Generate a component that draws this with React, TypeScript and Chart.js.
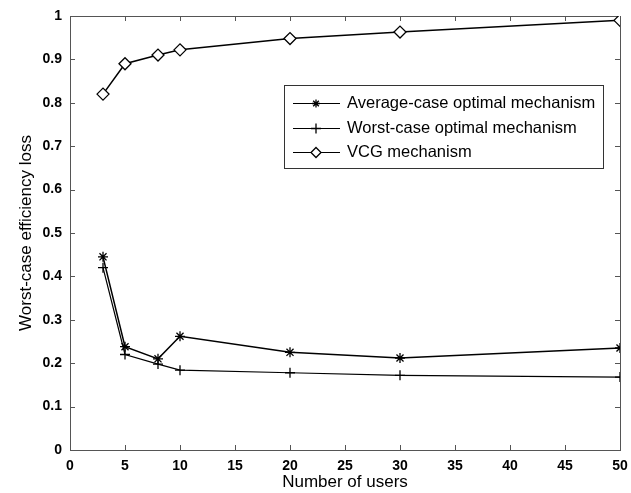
import React, { useEffect, useRef } from "react";
import { Chart, registerables } from "chart.js";

Chart.register(...registerables);

const xUsers = [3, 5, 8, 10, 20, 30, 50];
const averageCase = [0.445, 0.238, 0.21, 0.262, 0.225, 0.212, 0.235];
const worstCase = [0.42, 0.22, 0.198, 0.184, 0.178, 0.172, 0.168];
const vcgValues = [0.82, 0.89, 0.91, 0.922, 0.948, 0.963, 0.99];
const seriesNames = [
  "Average-case optimal mechanism",
  "Worst-case optimal mechanism",
  "VCG mechanism",
];
const FONT = "'Liberation Sans', Arial, sans-serif";

const pts = (ys: number[]) => xUsers.map((x, i) => ({ x, y: ys[i] }));

function drawMarker(ctx: CanvasRenderingContext2D, style: string, r: number, x: number, y: number) {
  ctx.beginPath();
  if (style === "star" || style === "cross") {
    ctx.moveTo(x - r, y);
    ctx.lineTo(x + r, y);
    ctx.moveTo(x, y - r);
    ctx.lineTo(x, y + r);
    if (style === "star") {
      const d = r * Math.SQRT1_2;
      ctx.moveTo(x - d, y - d);
      ctx.lineTo(x + d, y + d);
      ctx.moveTo(x - d, y + d);
      ctx.lineTo(x + d, y - d);
    }
    ctx.stroke();
  } else {
    ctx.moveTo(x, y - r);
    ctx.lineTo(x + r, y);
    ctx.lineTo(x, y + r);
    ctx.lineTo(x - r, y);
    ctx.closePath();
    ctx.fillStyle = "#fff";
    ctx.fill();
    ctx.stroke();
  }
}

const framePlugin = {
  id: "frame",
  beforeDatasetsDraw(chart: any) {
    const { ctx, chartArea } = chart;
    const { left, right, top, bottom } = chartArea;
    const xs = chart.scales.x;
    const ys = chart.scales.y;
    ctx.save();
    ctx.strokeStyle = "#555";
    ctx.lineWidth = 1;
    ctx.strokeRect(left + 0.5, top + 0.5, right - left, bottom - top);
    const L = 5;
    ctx.beginPath();
    xs.ticks.forEach((t: any) => {
      const p = Math.round(xs.getPixelForValue(t.value)) + 0.5;
      ctx.moveTo(p, bottom);
      ctx.lineTo(p, bottom - L);
      ctx.moveTo(p, top);
      ctx.lineTo(p, top + L);
    });
    ys.ticks.forEach((t: any) => {
      const p = Math.round(ys.getPixelForValue(t.value)) + 0.5;
      ctx.moveTo(left, p);
      ctx.lineTo(left + L, p);
      ctx.moveTo(right, p);
      ctx.lineTo(right - L, p);
    });
    ctx.stroke();
    ctx.restore();
  },
};

const legendPlugin = {
  id: "boxLegend",
  afterDraw(chart: any) {
    const { ctx } = chart;
    const bx = 284, by = 85, bw = 319, bh = 83;
    ctx.save();
    ctx.fillStyle = "#fff";
    ctx.fillRect(bx, by, bw, bh);
    ctx.strokeStyle = "#333";
    ctx.lineWidth = 1;
    ctx.strokeRect(bx + 0.5, by + 0.5, bw, bh);
    ctx.font = `16.5px ${FONT}`;
    ctx.textBaseline = "middle";
    const rows = [103, 128, 152];
    const legendR = [4, 5, 5];
    chart.data.datasets.forEach((ds: any, i: number) => {
      const y = rows[i];
      ctx.strokeStyle = "#000";
      ctx.lineWidth = 1;
      ctx.beginPath();
      ctx.moveTo(bx + 9, y + 0.5);
      ctx.lineTo(bx + 56, y + 0.5);
      ctx.stroke();
      ctx.lineWidth = 1.3;
      drawMarker(ctx, ds.pointStyle, legendR[i], bx + 32, y + 0.5);
      ctx.fillStyle = "#000";
      ctx.fillText(seriesNames[i], bx + 63, y);
    });
    ctx.restore();
  },
};

export default function App() {
  const ref = useRef<HTMLCanvasElement | null>(null);
  useEffect(() => {
    document.body.style.margin = "0";
    const canvas = ref.current!;
    const mk = (label: string, ys: number[], style: string, r: number, bw: number) => ({
      label,
      data: pts(ys),
      borderColor: "#000",
      backgroundColor: "#fff",
      pointBorderColor: "#000",
      pointBackgroundColor: "#fff",
      borderWidth: bw,
      pointStyle: style,
      pointRadius: r,
      pointBorderWidth: 1.3,
      tension: 0,
    });
    const chart = new Chart(canvas, {
      type: "line",
      data: {
        datasets: [
          mk(seriesNames[0], averageCase, "star", 5, 1.5),
          mk(seriesNames[1], worstCase, "cross", 5, 1.2),
          mk(seriesNames[2], vcgValues, "rectRot", 6, 1.5),
        ],
      },
      plugins: [framePlugin, legendPlugin],
      options: {
        responsive: false,
        animation: false,
        layout: { padding: { left: 0, right: 11, top: 16, bottom: 0 } },
        plugins: { legend: { display: false }, tooltip: { enabled: false } },
        scales: {
          x: {
            type: "linear",
            min: 0,
            max: 50,
            border: { display: false },
            grid: { display: false, drawTicks: false },
            ticks: {
              stepSize: 5,
              color: "#000",
              padding: 8,
              font: { family: FONT, size: 14, weight: "bold" },
            },
            title: {
              display: true,
              text: "Number of users",
              color: "#000",
              font: { family: FONT, size: 17 },
              padding: { top: 0, bottom: 0 },
            },
            afterFit: (s: any) => {
              s.height = 43;
              s.paddingRight = 0;
              s.paddingLeft = 0;
            },
          },
          y: {
            min: 0,
            max: 1,
            border: { display: false },
            grid: { display: false, drawTicks: false },
            ticks: {
              stepSize: 0.1,
              color: "#000",
              padding: 8,
              font: { family: FONT, size: 14, weight: "bold" },
              callback: (v: any) => {
                const n = Math.round(Number(v) * 10) / 10;
                return String(n);
              },
            },
            title: {
              display: true,
              text: "Worst-case efficiency loss",
              color: "#000",
              font: { family: FONT, size: 17 },
              padding: { top: 16, bottom: 0 },
            },
            afterFit: (s: any) => {
              s.width = 70;
              s.paddingTop = 0;
              s.paddingBottom = 0;
            },
          },
        },
      },
    } as any);
    return () => chart.destroy();
  }, []);
  return (
    <div style={{ width: 631, height: 493, background: "#fff" }}>
      <canvas ref={ref} width={631} height={493} />
    </div>
  );
}
